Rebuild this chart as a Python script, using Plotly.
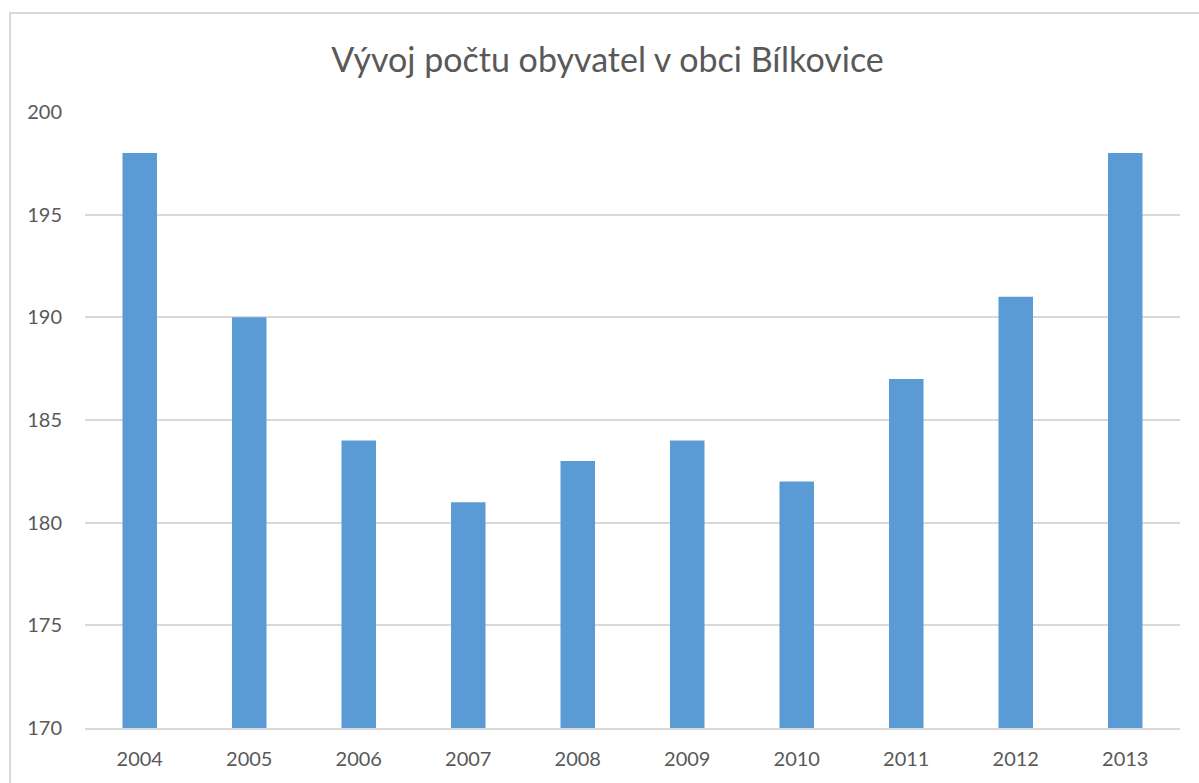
import plotly.graph_objects as go

years = ["2004", "2005", "2006", "2007", "2008", "2009", "2010", "2011", "2012", "2013"]
population = [198, 190, 184, 181, 183, 184, 182, 187, 191, 198]
y_ticks = [170, 175, 180, 185, 190, 195, 200]

W, H = 1199, 783
L, R, T, B = 85, 19, 112, 55
pw, ph = W - L - R, H - T - B

def px_x(px):
    return (px - L) / pw

def px_y(py):
    return (H - B - py) / ph

fig = go.Figure(go.Bar(
    x=years, y=population, marker_color="#5B9BD5", width=0.315,
    marker_line_width=0,
))

font = "Lato, 'Open Sans', sans-serif"
fig.update_layout(
    width=W, height=H,
    margin=dict(l=L, r=R, t=T, b=B),
    paper_bgcolor="white", plot_bgcolor="white",
    title=dict(text="Vývoj počtu obyvatel v obci Bílkovice", x=(330 + 885) / 2 / W,
               xanchor="center", y=1 - 60 / H, yanchor="middle",
               font=dict(family=font, size=34, color="#595959")),
    font=dict(family=font, size=20, color="#595959"),
    showlegend=False,
    bargap=0.685,
    xaxis=dict(type="category", showgrid=False, showline=True, linecolor="#d9d9d9",
               linewidth=2, ticks="", ticklabelstandoff=12,
               tickfont=dict(size=20, color="#595959")),
    yaxis=dict(range=[170, 200], tickvals=y_ticks, showgrid=True, gridcolor="#d9d9d9",
               gridwidth=1.5, zeroline=False, showline=False, ticks="",
               ticklabelstandoff=22,
               tickfont=dict(size=20, color="#595959")),
    shapes=[dict(type="rect", xref="paper", yref="paper",
                 x0=px_x(10), x1=px_x(1215), y0=px_y(800), y1=px_y(13),
                 line=dict(color="#d9d9d9", width=2), layer="below")],
)

fig.write_html("out.html", post_script="document.body.style.margin='0';",
               config={"displayModeBar": False})
